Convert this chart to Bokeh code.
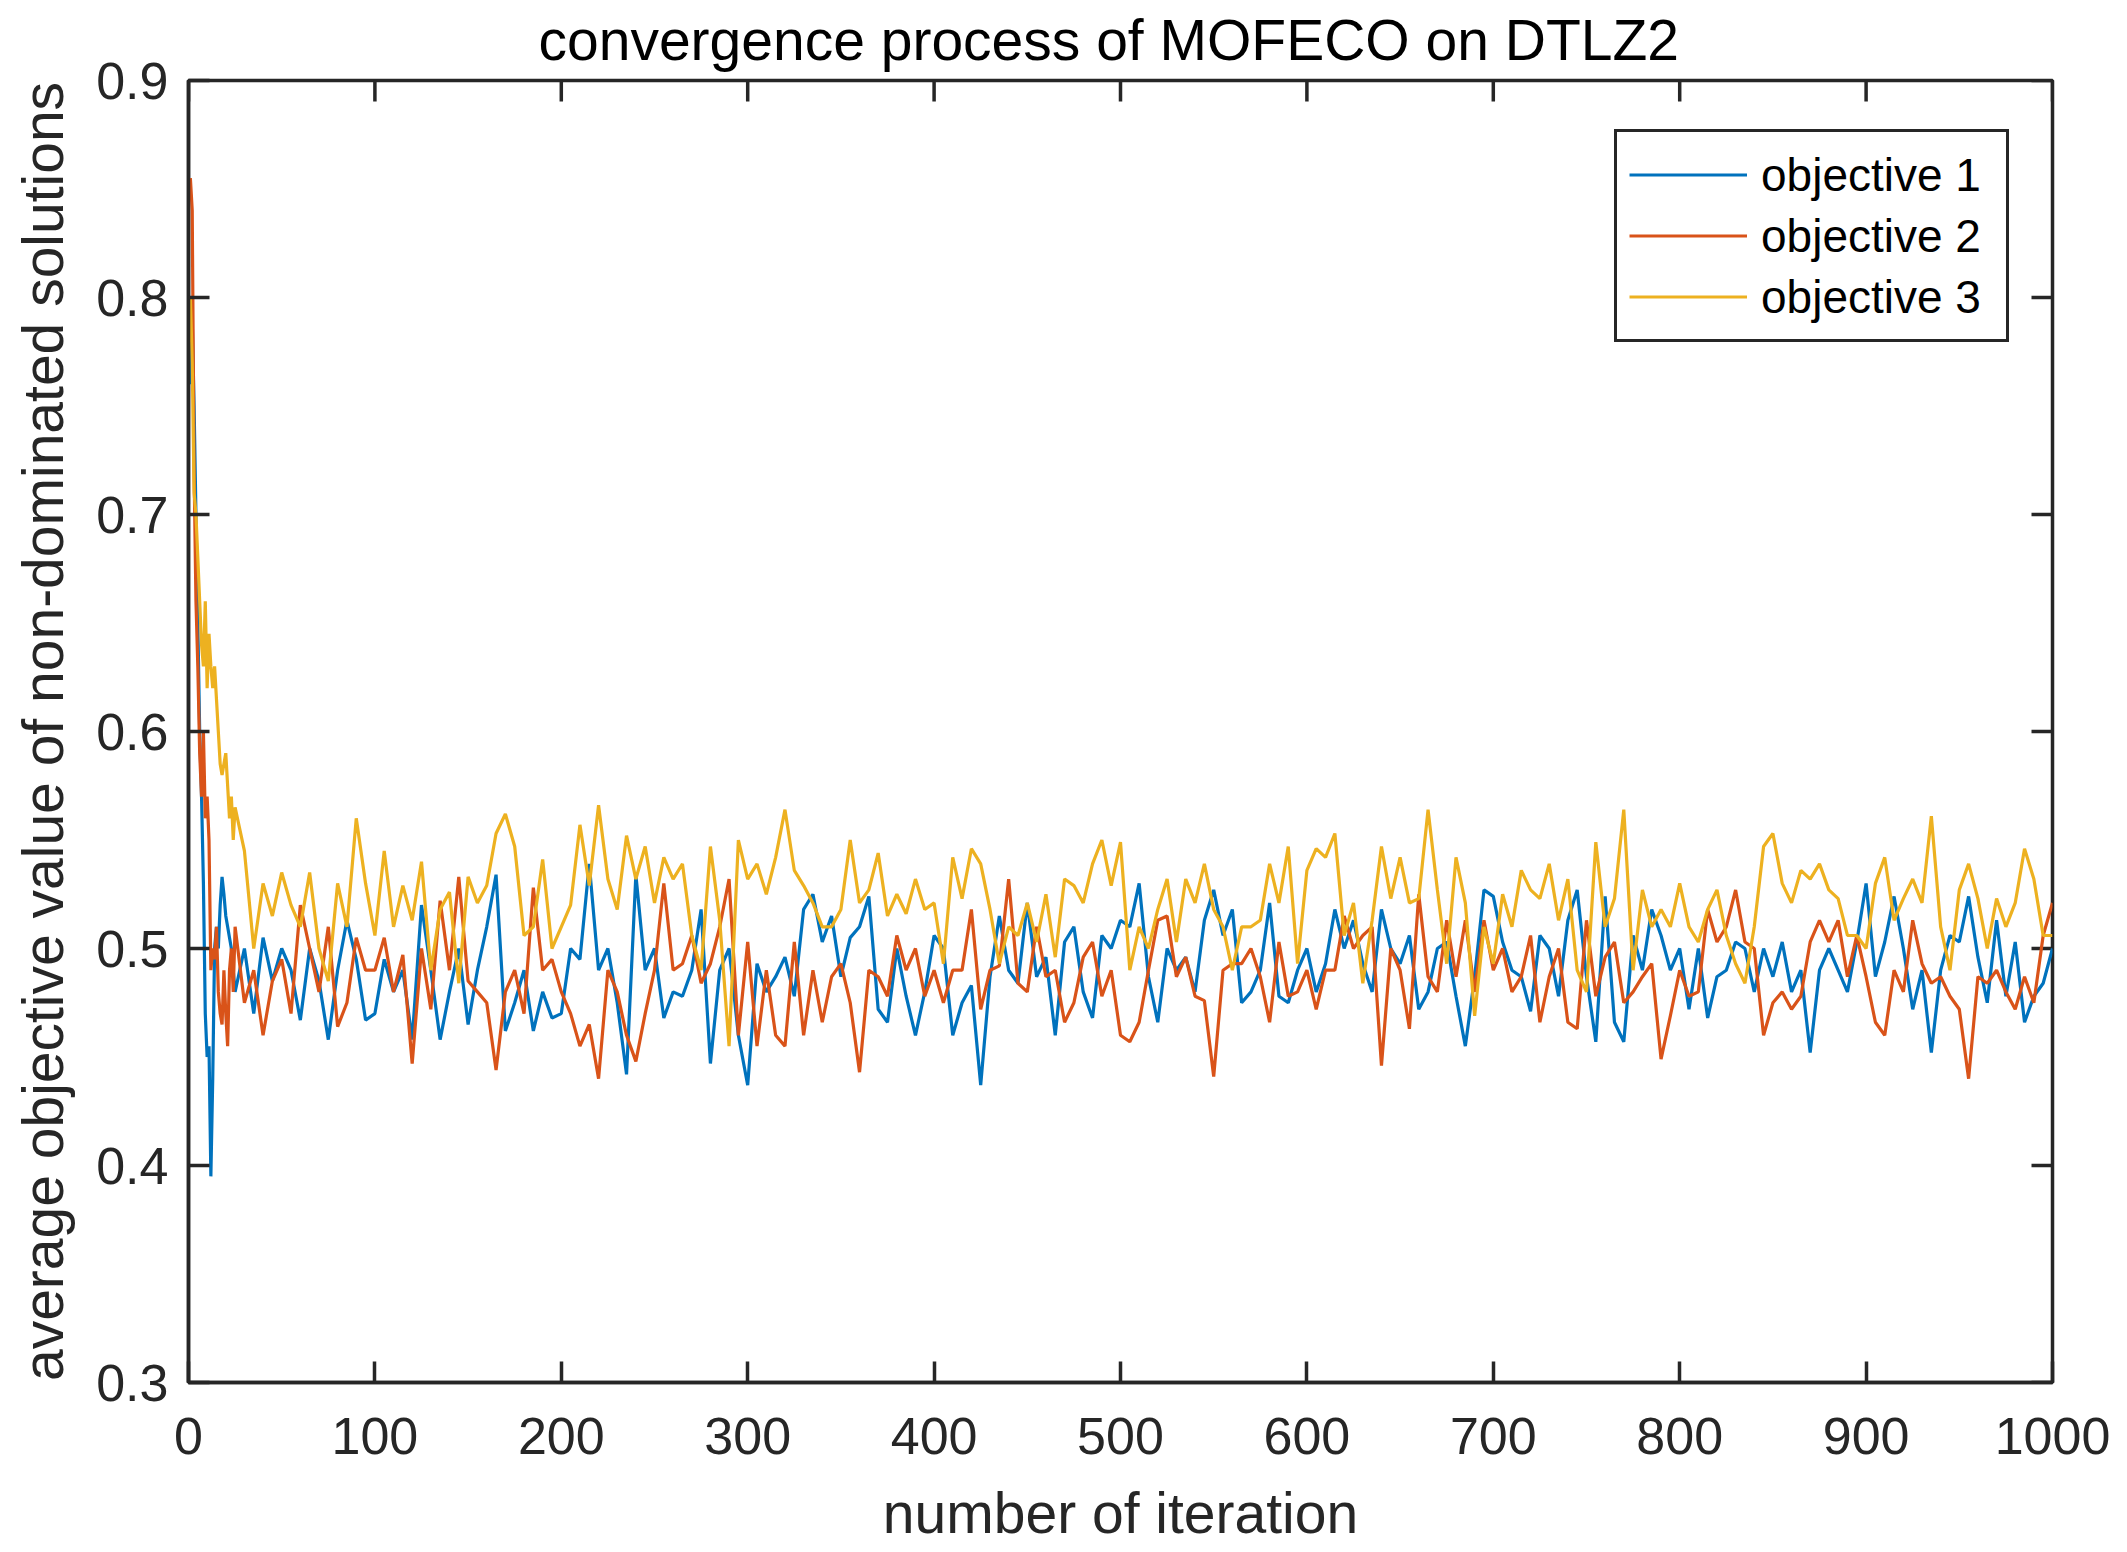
import math
from bokeh.plotting import figure
from bokeh.models import Range1d, FixedTicker, Legend, LegendItem
from bokeh.embed import file_html
from bokeh.resources import INLINE

TITLE = "convergence process of MOFECO on DTLZ2"
X_LABEL = "number of iteration"
Y_LABEL = "average objective value of non-dominated solutions"
SERIES_NAMES = ["objective 1", "objective 2", "objective 3"]
X_TICKS = [0, 100, 200, 300, 400, 500, 600, 700, 800, 900, 1000]
Y_TICKS = [0.3, 0.4, 0.5, 0.6, 0.7, 0.8, 0.9]

# iteration numbers at which the values were read
ITER = list(range(1, 26)) + list(range(30, 1001, 5))

OBJ1 = [
    0.76, 0.79, 0.75, 0.70, 0.65, 0.60, 0.57, 0.53, 0.47, 0.45, 0.455, 0.395, 0.44, 0.50, 0.51,
    0.50, 0.52, 0.533, 0.525, 0.515, 0.51, 0.505, 0.50, 0.49, 0.48,
    # 30-95
    0.50, 0.47, 0.505, 0.485, 0.50, 0.49, 0.467, 0.50, 0.485, 0.458, 0.49, 0.513, 0.495, 0.467,
    # 100-250
    0.47, 0.495, 0.48, 0.49, 0.458, 0.52, 0.49, 0.458, 0.48, 0.50,
    0.465, 0.49, 0.51, 0.534, 0.462, 0.475, 0.49, 0.462, 0.48, 0.468,
    0.47, 0.50, 0.495, 0.539, 0.49, 0.50, 0.475, 0.442, 0.534, 0.49, 0.50,
    # 255-410
    0.468, 0.48, 0.478, 0.49, 0.518, 0.447, 0.49, 0.50, 0.46, 0.437,
    0.493, 0.48, 0.487, 0.496, 0.478, 0.518, 0.525, 0.503, 0.515, 0.487,
    0.505, 0.51, 0.524, 0.472, 0.466, 0.50, 0.478, 0.46, 0.48, 0.506, 0.50, 0.46,
    # 415-565
    0.475, 0.483, 0.437, 0.487, 0.515, 0.49, 0.484, 0.521, 0.487, 0.496,
    0.46, 0.503, 0.51, 0.48, 0.468, 0.506, 0.50, 0.513, 0.51, 0.53,
    0.487, 0.466, 0.50, 0.49, 0.496, 0.48, 0.513, 0.527, 0.506, 0.518, 0.475,
    # 570-725
    0.48, 0.49, 0.521, 0.478, 0.475, 0.49, 0.50, 0.48, 0.493, 0.518,
    0.50, 0.513, 0.493, 0.48, 0.518, 0.50, 0.493, 0.506, 0.472, 0.48,
    0.50, 0.503, 0.478, 0.455, 0.487, 0.527, 0.524, 0.503, 0.49, 0.487, 0.471, 0.506,
    # 730-885
    0.50, 0.478, 0.513, 0.527, 0.487, 0.457, 0.524, 0.466, 0.457, 0.506,
    0.49, 0.518, 0.506, 0.49, 0.50, 0.472, 0.50, 0.468, 0.487, 0.49,
    0.503, 0.50, 0.48, 0.50, 0.487, 0.503, 0.48, 0.49, 0.452, 0.49, 0.50, 0.49,
    # 890-1000
    0.48, 0.503, 0.53, 0.487, 0.503, 0.524, 0.50, 0.472, 0.49, 0.452,
    0.49, 0.506, 0.503, 0.524, 0.496, 0.475, 0.513, 0.478, 0.503, 0.466,
    0.478, 0.484, 0.50,
]

OBJ2 = [
    0.855, 0.84, 0.72, 0.66, 0.63, 0.59, 0.57, 0.60, 0.56, 0.57, 0.55, 0.49, 0.50, 0.495, 0.51,
    0.48, 0.47, 0.465, 0.49, 0.47, 0.455, 0.49, 0.50, 0.48, 0.51,
    # 30-95
    0.475, 0.49, 0.46, 0.485, 0.495, 0.47, 0.52, 0.50, 0.48, 0.51, 0.464, 0.475, 0.505, 0.49,
    # 100-250
    0.49, 0.505, 0.48, 0.497, 0.447, 0.50, 0.472, 0.522, 0.49, 0.533,
    0.485, 0.48, 0.475, 0.444, 0.48, 0.49, 0.47, 0.528, 0.49, 0.495,
    0.48, 0.47, 0.455, 0.465, 0.44, 0.49, 0.48, 0.46, 0.448, 0.47, 0.49,
    # 255-410
    0.53, 0.49, 0.493, 0.506, 0.484, 0.493, 0.51, 0.532, 0.46, 0.503,
    0.455, 0.49, 0.46, 0.455, 0.503, 0.46, 0.49, 0.466, 0.487, 0.493,
    0.475, 0.443, 0.49, 0.487, 0.478, 0.506, 0.49, 0.50, 0.478, 0.49, 0.475, 0.49,
    # 415-565
    0.49, 0.518, 0.472, 0.49, 0.492, 0.532, 0.484, 0.48, 0.51, 0.487,
    0.49, 0.466, 0.475, 0.496, 0.503, 0.478, 0.49, 0.46, 0.457, 0.466,
    0.49, 0.513, 0.515, 0.487, 0.496, 0.478, 0.476, 0.441, 0.49, 0.493, 0.493,
    # 570-725
    0.50, 0.487, 0.466, 0.503, 0.478, 0.48, 0.49, 0.472, 0.49, 0.49,
    0.515, 0.50, 0.506, 0.51, 0.446, 0.50, 0.49, 0.463, 0.525, 0.487,
    0.48, 0.513, 0.487, 0.513, 0.48, 0.513, 0.49, 0.50, 0.48, 0.487, 0.506, 0.466,
    # 730-885
    0.487, 0.50, 0.466, 0.463, 0.513, 0.478, 0.496, 0.503, 0.475, 0.48,
    0.487, 0.493, 0.449, 0.469, 0.49, 0.478, 0.48, 0.518, 0.503, 0.51,
    0.527, 0.503, 0.50, 0.46, 0.475, 0.48, 0.472, 0.478, 0.503, 0.513, 0.503, 0.513,
    # 890-1000
    0.487, 0.506, 0.487, 0.466, 0.46, 0.49, 0.48, 0.513, 0.493, 0.484,
    0.487, 0.478, 0.472, 0.440, 0.487, 0.484, 0.49, 0.48, 0.472, 0.487,
    0.475, 0.506, 0.521,
]

OBJ3 = [
    0.80, 0.77, 0.71, 0.70, 0.68, 0.66, 0.64, 0.63, 0.66, 0.62, 0.645, 0.63, 0.62, 0.63, 0.615,
    0.60, 0.585, 0.58, 0.585, 0.59, 0.575, 0.56, 0.57, 0.55, 0.565,
    # 30-95
    0.545, 0.50, 0.53, 0.515, 0.535, 0.52, 0.51, 0.535, 0.50, 0.485, 0.53, 0.51, 0.56, 0.53,
    # 100-250
    0.506, 0.545, 0.51, 0.529, 0.513, 0.54, 0.49, 0.518, 0.526, 0.484,
    0.533, 0.521, 0.529, 0.553, 0.562, 0.547, 0.506, 0.51, 0.541, 0.50,
    0.51, 0.52, 0.557, 0.529, 0.566, 0.532, 0.518, 0.552, 0.532, 0.547, 0.521,
    # 255-410
    0.542, 0.532, 0.539, 0.506, 0.49, 0.547, 0.513, 0.455, 0.55, 0.532,
    0.539, 0.525, 0.542, 0.564, 0.536, 0.529, 0.521, 0.51, 0.51, 0.518,
    0.55, 0.521, 0.527, 0.544, 0.515, 0.525, 0.516, 0.532, 0.518, 0.521, 0.493, 0.542,
    # 415-565
    0.523, 0.546, 0.539, 0.518, 0.493, 0.51, 0.506, 0.521, 0.503, 0.525,
    0.496, 0.532, 0.529, 0.521, 0.539, 0.55, 0.529, 0.549, 0.49, 0.51,
    0.50, 0.518, 0.532, 0.503, 0.532, 0.521, 0.539, 0.518, 0.51, 0.49, 0.51,
    # 570-725
    0.51, 0.513, 0.539, 0.521, 0.547, 0.493, 0.536, 0.546, 0.542, 0.553,
    0.506, 0.521, 0.484, 0.513, 0.547, 0.523, 0.542, 0.521, 0.523, 0.564,
    0.527, 0.493, 0.542, 0.521, 0.469, 0.51, 0.493, 0.525, 0.51, 0.536, 0.527, 0.523,
    # 730-885
    0.539, 0.513, 0.532, 0.49, 0.48, 0.549, 0.51, 0.523, 0.564, 0.49,
    0.527, 0.51, 0.518, 0.51, 0.53, 0.51, 0.503, 0.518, 0.527, 0.506,
    0.493, 0.484, 0.51, 0.547, 0.553, 0.53, 0.521, 0.536, 0.532, 0.539, 0.527, 0.523,
    # 890-1000
    0.506, 0.506, 0.50, 0.53, 0.542, 0.513, 0.523, 0.532, 0.521, 0.561,
    0.51, 0.49, 0.527, 0.539, 0.523, 0.50, 0.523, 0.51, 0.521, 0.546,
    0.532, 0.506, 0.506,
]

assert len(OBJ1) == len(ITER), (len(OBJ1), len(ITER))
assert len(OBJ2) == len(ITER), (len(OBJ2), len(ITER))
assert len(OBJ3) == len(ITER), (len(OBJ3), len(ITER))

COLORS = ["#0072BD", "#D95319", "#EDB120"]
AX = "#262626"
FONT = "Liberation Sans"

W, H = 2127, 1552
BL, BR, BT, BB = 188, 75, 80, 170
FRAME_H = H - BT - BB

p = figure(width=W, height=H, output_backend="svg", toolbar_location=None,
           x_range=Range1d(0, 1000), y_range=Range1d(0.3, 0.9),
           min_border_left=BL, min_border_right=BR, min_border_top=BT, min_border_bottom=BB)

p.background_fill_color = "white"
p.border_fill_color = "white"
p.xgrid.visible = False
p.ygrid.visible = False
p.outline_line_color = AX
p.outline_line_width = 3.5
p.outline_line_alpha = 1.0

p.title.text = TITLE
p.title.align = "left"
p.title.offset = 350
p.title.vertical_align = "top"
p.title.text_font = FONT
p.title.text_font_size = "57px"
p.title.text_font_style = "normal"
p.title.text_color = "black"
p.title.standoff = 14

xa = p.xaxis[0]
ya = p.yaxis[0]
for ax, ticks in ((xa, X_TICKS), (ya, Y_TICKS)):
    ax.ticker = FixedTicker(ticks=ticks)
    ax.axis_line_color = AX
    ax.axis_line_width = 3.5
    ax.major_tick_line_color = AX
    ax.major_tick_line_width = 3.5
    ax.major_tick_in = 21
    ax.major_tick_out = 0
    ax.minor_tick_line_color = None
    ax.major_label_text_font = FONT
    ax.major_label_text_color = AX
    ax.major_label_text_font_size = "52px"
    ax.axis_label_text_font = FONT
    ax.axis_label_text_font_size = "57px"
    ax.axis_label_text_font_style = "normal"
    ax.axis_label_text_color = AX
xa.major_label_standoff = 35
ya.major_label_standoff = 20
xa.axis_label = X_LABEL
ya.axis_label = Y_LABEL
xa.axis_label_standoff = 24
ya.axis_label_standoff = 18

# tick marks on the top and right edges of the box
p.ray(x=X_TICKS, y=[0.9] * len(X_TICKS), length=21, angle=-math.pi / 2,
      length_units="screen", line_color=AX, line_width=3.5)
p.ray(x=[1000] * len(Y_TICKS), y=Y_TICKS, length=21, angle=math.pi,
      length_units="screen", line_color=AX, line_width=3.5)

renderers = []
for vals, col in zip([OBJ1, OBJ2, OBJ3], COLORS):
    r = p.line(ITER, vals, line_color=col, line_width=3.2)
    renderers.append(r)

legend = Legend(items=[LegendItem(label=n, renderers=[r]) for n, r in zip(SERIES_NAMES, renderers)],
                location=(1426, FRAME_H - 51 - 207 - 4))
legend.margin = 0
legend.padding = 12
legend.spacing = 0
legend.glyph_width = 118
legend.glyph_height = 61
legend.label_height = 61
legend.label_width = 233
legend.label_standoff = 14
legend.label_text_font = FONT
legend.label_text_font_size = "46px"
legend.label_text_color = "black"
legend.border_line_color = AX
legend.border_line_width = 3.5
legend.border_line_alpha = 1.0
legend.background_fill_color = "white"
legend.background_fill_alpha = 1.0
p.add_layout(legend)

open("out.html", "w").write(file_html(p, INLINE))
